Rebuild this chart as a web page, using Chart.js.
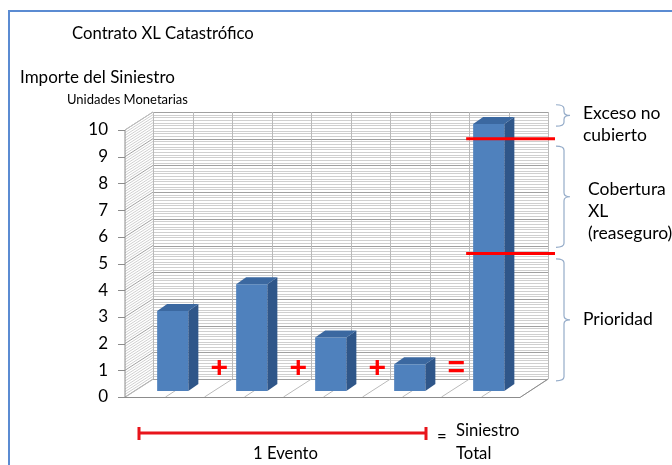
<!DOCTYPE html>
<html>
<head>
<meta charset="utf-8">
<script src="https://cdn.jsdelivr.net/npm/chart.js@4.4.1/dist/chart.umd.min.js"></script>
<style>
  html, body { margin: 0; padding: 0; background: #fff; }
</style>
</head>
<body>
<canvas id="chart" width="672" height="465"></canvas>
<script>
// Chart data
const categories = ['E1', '', 'E2', '', 'E3', '', 'E4', '', 'Total', ''];
const siniestro = [3, null, 4, null, 2, null, 1, null, 10, null];
const operators = ['', '+', '', '+', '', '+', '', '=', '', ''];
const yTicks = [0, 1, 2, 3, 4, 5, 6, 7, 8, 9, 10];
const layerLimits = [5.15, 9.45];          // prioridad / limite XL
const layerSpans = [[0.38, 4.95], [5.38, 9.17], [9.92, 10.72]];
const layerLabels = [['Prioridad'], ['Cobertura', 'XL', '(reaseguro)'], ['Exceso no', 'cubierto']];

const FONT = 'Lato, "Open Sans", sans-serif';
const DX = 28, DY = 18;      // wall depth
const BDX = 10, BDY = 7;     // bar depth

const walls = {
    id: 'walls',
    beforeDatasetsDraw(chart) {
        const { ctx, chartArea: a, scales: { x, y } } = chart;
        const back = v => y.getPixelForValue(v) - DY;
        const front = v => y.getPixelForValue(v);
        const colW = (a.right - a.left) / categories.length;
        ctx.save();
        ctx.lineWidth = 1;
        // back wall
        for (let i = 0; i <= 100; i++) {
            const v = i / 10, major = i % 10 === 0;
            ctx.strokeStyle = major ? '#a0a0a0' : '#cfcfcf';
            const yb = Math.round(back(v)) + 0.5;
            ctx.beginPath(); ctx.moveTo(a.left, yb); ctx.lineTo(a.right, yb); ctx.stroke();
            // side wall
            ctx.beginPath(); ctx.moveTo(a.left - DX, front(v)); ctx.lineTo(a.left, back(v)); ctx.stroke();
        }
        ctx.strokeStyle = '#bababa';
        for (let i = 0; i <= categories.length; i++) {
            const xb = Math.round(a.left + i * colW) + 0.5;
            ctx.beginPath(); ctx.moveTo(xb, back(10)); ctx.lineTo(xb, back(0)); ctx.stroke();
            // floor
            ctx.beginPath(); ctx.moveTo(xb, back(0)); ctx.lineTo(xb - DX, front(0)); ctx.stroke();
        }
        // outlines
        ctx.strokeStyle = '#8c8c8c';
        ctx.beginPath();
        ctx.moveTo(a.left - DX, front(10)); ctx.lineTo(a.left - DX, front(0) + 0.5);
        ctx.lineTo(a.right - DX, front(0) + 0.5); ctx.lineTo(a.right, back(0));
        ctx.stroke();
        ctx.strokeStyle = '#bfbfbf';
        ctx.beginPath();
        ctx.moveTo(a.left - DX, front(10)); ctx.lineTo(a.left, back(10));
        ctx.stroke();
        // tick marks
        ctx.strokeStyle = '#8c8c8c';
        yTicks.forEach(v => {
            const yy = Math.round(front(v)) + 0.5;
            ctx.beginPath(); ctx.moveTo(a.left - DX - 7, yy); ctx.lineTo(a.left - DX, yy); ctx.stroke();
        });
        ctx.restore();
    },
    afterDatasetsDraw(chart) {
        const { ctx, chartArea: a, scales: { x, yb } } = chart;
        const meta = chart.getDatasetMeta(0);
        ctx.save();
        meta.data.forEach((bar, i) => {
            if (siniestro[i] == null) return;
            const l = bar.x - bar.width / 2, r = bar.x + bar.width / 2;
            ctx.fillStyle = '#2f5689';
            ctx.beginPath();
            ctx.moveTo(r, bar.y); ctx.lineTo(r + BDX, bar.y - BDY);
            ctx.lineTo(r + BDX, bar.base - BDY); ctx.lineTo(r, bar.base);
            ctx.closePath(); ctx.fill();
            ctx.fillStyle = '#3b68a0';
            ctx.beginPath();
            ctx.moveTo(l, bar.y); ctx.lineTo(l + BDX, bar.y - BDY);
            ctx.lineTo(r + BDX, bar.y - BDY); ctx.lineTo(r, bar.y);
            ctx.closePath(); ctx.fill();
        });
        // operators between bars
        ctx.fillStyle = '#ff0000';
        ctx.font = 'bold 30px "Liberation Sans", Arial, sans-serif';
        ctx.textAlign = 'center';
        ctx.textBaseline = 'middle';
        operators.forEach((op, i) => {
            if (op) ctx.fillText(op, x.getPixelForValue(i) + 7, yb.getPixelForValue(0.85));
        });
        // layer limits across total bar
        const tot = meta.data[8];
        ctx.strokeStyle = '#ff0000';
        ctx.lineWidth = 3;
        layerLimits.forEach(v => {
            const yy = yb.getPixelForValue(v);
            ctx.beginPath(); ctx.moveTo(tot.x - tot.width / 2 - 7, yy); ctx.lineTo(a.right + 7, yy); ctx.stroke();
        });
        ctx.restore();
    },
    afterDraw(chart) {
        const { ctx, scales: { yb } } = chart;
        ctx.save();
        // frame
        ctx.strokeStyle = '#5b8bd2';
        ctx.lineWidth = 2;
        ctx.beginPath(); ctx.moveTo(9, 470); ctx.lineTo(9, 11); ctx.lineTo(680, 11); ctx.stroke();

        ctx.fillStyle = '#000';
        ctx.textAlign = 'left';
        ctx.textBaseline = 'middle';
        ctx.font = '16.7px ' + FONT;
        ctx.fillText('Contrato XL Catastrófico', 72, 34);
        ctx.font = '17px ' + FONT;
        ctx.fillText('Importe del Siniestro', 20, 78);
        ctx.font = '13px ' + FONT;
        ctx.fillText('Unidades Monetarias', 67, 100);

        // braces and layer labels
        ctx.strokeStyle = '#95acc9';
        ctx.lineWidth = 1.2;
        ctx.font = '17.5px ' + FONT;
        const bx = 556;
        layerSpans.forEach((s, k) => {
            const y1 = yb.getPixelForValue(s[1]), y2 = yb.getPixelForValue(s[0]);
            const ym = (y1 + y2) / 2, w = 8, r = 4;
            ctx.beginPath();
            ctx.moveTo(bx, y1);
            ctx.quadraticCurveTo(bx + w, y1, bx + w, y1 + r);
            ctx.lineTo(bx + w, ym - r);
            ctx.quadraticCurveTo(bx + w, ym, bx + w + 6, ym);
            ctx.quadraticCurveTo(bx + w, ym, bx + w, ym + r);
            ctx.lineTo(bx + w, y2 - r);
            ctx.quadraticCurveTo(bx + w, y2, bx, y2);
            ctx.stroke();
            const lines = layerLabels[k];
            const tx = k === 1 ? 588 : 583;
            const t0 = k === 2 ? y1 + 9 : (k === 1 ? ym - 7 : ym);
            lines.forEach((t, j) => ctx.fillText(t, tx, t0 + j * 22));
        });

        // event span
        ctx.strokeStyle = '#e8141b';
        ctx.lineWidth = 3;
        ctx.beginPath();
        ctx.moveTo(139, 433); ctx.lineTo(426, 433);
        ctx.moveTo(139, 427); ctx.lineTo(139, 440);
        ctx.moveTo(426, 427); ctx.lineTo(426, 440);
        ctx.stroke();
        ctx.fillStyle = '#000';
        ctx.font = '16.7px ' + FONT;
        ctx.fillText('1 Evento', 253, 454);
        ctx.fillText('=', 437, 437);
        ctx.fillText('Siniestro', 456, 431);
        ctx.fillText('Total', 456, 454);
        ctx.restore();
    }
};

new Chart(document.getElementById('chart'), {
    type: 'bar',
    data: {
        labels: categories,
        datasets: [{
            data: siniestro,
            yAxisID: 'yb',
            backgroundColor: '#4f81bd',
            borderWidth: 0,
            barPercentage: 0.79,
            categoryPercentage: 1,
            clip: false
        }]
    },
    options: {
        responsive: false,
        animation: false,
        devicePixelRatio: 1,
        layout: { padding: { top: 130, bottom: 68, left: 0, right: 124 } },
        plugins: { legend: { display: false }, tooltip: { enabled: false }, title: { display: false } },
        scales: {
            x: { display: false },
            y: {
                min: 0, max: 10,
                afterBuildTicks: s => { s.ticks = yTicks.map(v => ({ value: v })); },
                afterFit: s => { s.width = 153; },
                ticks: { padding: 45, color: '#000', font: { size: 17, family: FONT } },
                grid: { display: false, drawTicks: false },
                border: { display: false }
            },
            yb: { display: false, min: -0.225, max: 9.775 }
        }
    },
    plugins: [walls]
});
</script>
</body>
</html>
